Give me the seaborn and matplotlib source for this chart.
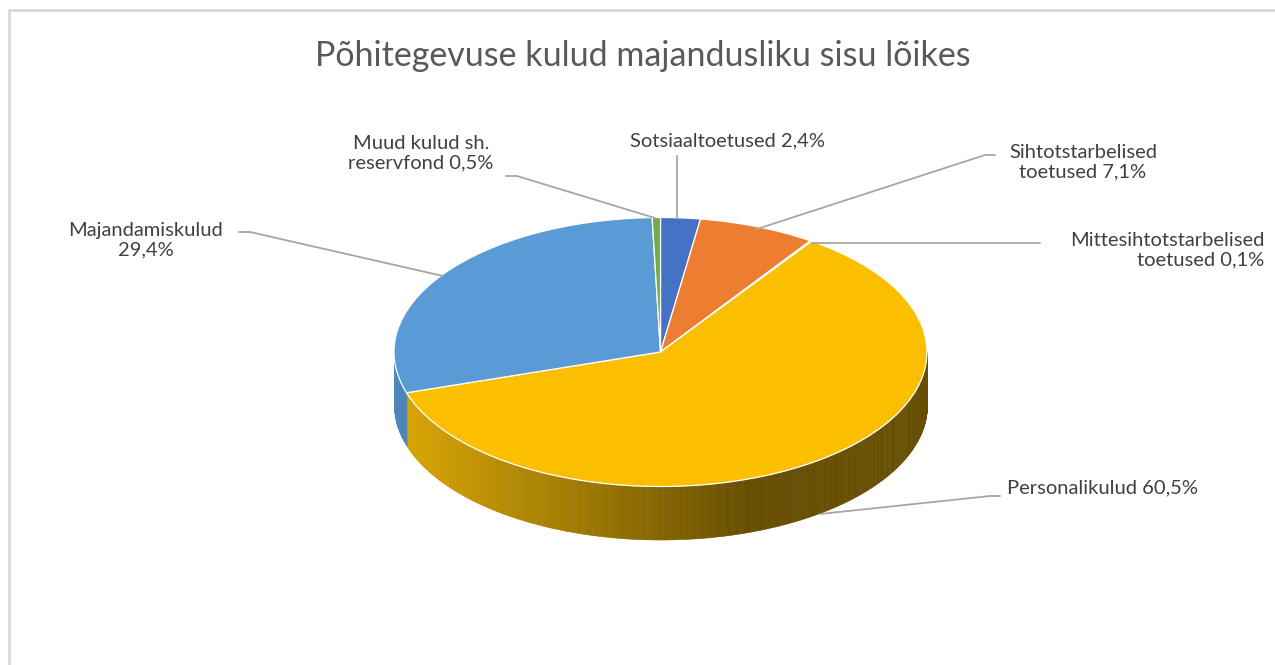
import numpy as np
import matplotlib
matplotlib.use("Agg")
import matplotlib.pyplot as plt
from matplotlib.lines import Line2D
import seaborn as sns

title = "Põhitegevuse kulud majandusliku sisu lõikes"
categories = ["Sotsiaaltoetused", "Sihtotstarbelised toetused", "Mittesihtotstarbelised toetused",
              "Personalikulud", "Majandamiskulud", "Muud kulud sh. reservfond"]
shares = [2.4, 7.1, 0.1, 60.5, 29.4, 0.5]
colors = ["#4472C4", "#ED7D31", "#A5A5A5", "#FBBF00", "#5B9BD5", "#70AD47"]
# how the labels wrap in the picture
wrapped = ["Sotsiaaltoetused", "Sihtotstarbelised\ntoetused", "Mittesihtotstarbelised\ntoetused",
           "Personalikulud", "Majandamiskulud\n", "Muud kulud sh.\nreservfond"]

sns.set_theme(style="white")
plt.rcParams["font.family"] = ["Lato", "DejaVu Sans"]

W, H = 1275, 665
cx, cy, rx, ry, depth = 660.5, 352, 266.5, 134.5, 53

fig = plt.figure(figsize=(W / 100, H / 100), dpi=100)
ax = fig.add_axes([0, 0, 1, 1])
ax.pie(shares, colors=colors, startangle=90, counterclock=False, radius=1,
       wedgeprops={"edgecolor": "white", "linewidth": 0.9, "zorder": 3})
ax.set_aspect("auto")
ax.set_xlim(-cx / rx, (W - cx) / rx)
ax.set_ylim((cy - H) / ry, cy / ry)


def shade(x):
    # side of the pie goes darker from left to right, then stays flat
    return np.interp(x, [-1, 0.33, 1], [0.87, 0.405, 0.405])


# side wall, only the front half of the pie is visible
ends = np.cumsum(shares) * 3.6
starts = ends - np.array(shares) * 3.6
for a0, a1, col in zip(starts, ends, colors):
    a0, a1 = max(a0, 90), min(a1, 270)
    if a1 <= a0:
        continue
    th = np.radians(np.linspace(a0, a1, int(a1 - a0) * 2 + 2))
    xs, ys = np.sin(th), np.cos(th)
    base = np.array(matplotlib.colors.to_rgb(col))
    for i in range(len(th) - 1):
        c = base * shade((xs[i] + xs[i + 1]) / 2)
        ax.fill_between(xs[i:i + 2], ys[i:i + 2], ys[i:i + 2] - depth / ry,
                        color=c, linewidth=0.4, zorder=1)


def fig_xy(x, y):
    return x / W, 1 - y / H


def leader(points):
    xs, ys = zip(*[fig_xy(x, y) for x, y in points])
    fig.add_artist(Line2D(xs, ys, color="#A6A6A6", linewidth=1.3, transform=fig.transFigure))


leader([(239, 232), (250, 232), (443, 276)])
leader([(506, 176), (517, 176), (655, 218)])
leader([(677, 156), (677, 218)])
leader([(995, 155), (985, 155), (757, 229)])
leader([(1040, 243), (812, 243)])
leader([(1000, 496), (990, 496), (820, 514)])

# chart frame, only top and left show
fig.add_artist(Line2D(*zip(*[fig_xy(9, H), fig_xy(9, 10), fig_xy(W, 10)]), color="#D9D9D9",
                      linewidth=2, transform=fig.transFigure))

label_pos = {
    0: (727, 141, "center"),
    1: (1083, 162, "center"),
    2: (1264, 250, "right"),
    3: (1007, 488, "left"),
    4: (146, 240, "center"),
    5: (421, 153, "center"),
}
for i, (x, y, ha) in label_pos.items():
    val = f"{shares[i]}%".replace(".", ",")
    sep = "" if wrapped[i].endswith("\n") else " "
    fx, fy = fig_xy(x, y)
    fig.text(fx, fy, wrapped[i] + sep + val, ha=ha, va="center", ma=ha, fontsize=14.5,
             color="#404040", linespacing=1.2)

fx, fy = fig_xy(643, 56)
fig.text(fx, fy, title, ha="center", va="center", fontsize=24.5, color="#595959")

fig.savefig("out.png", dpi=100)
